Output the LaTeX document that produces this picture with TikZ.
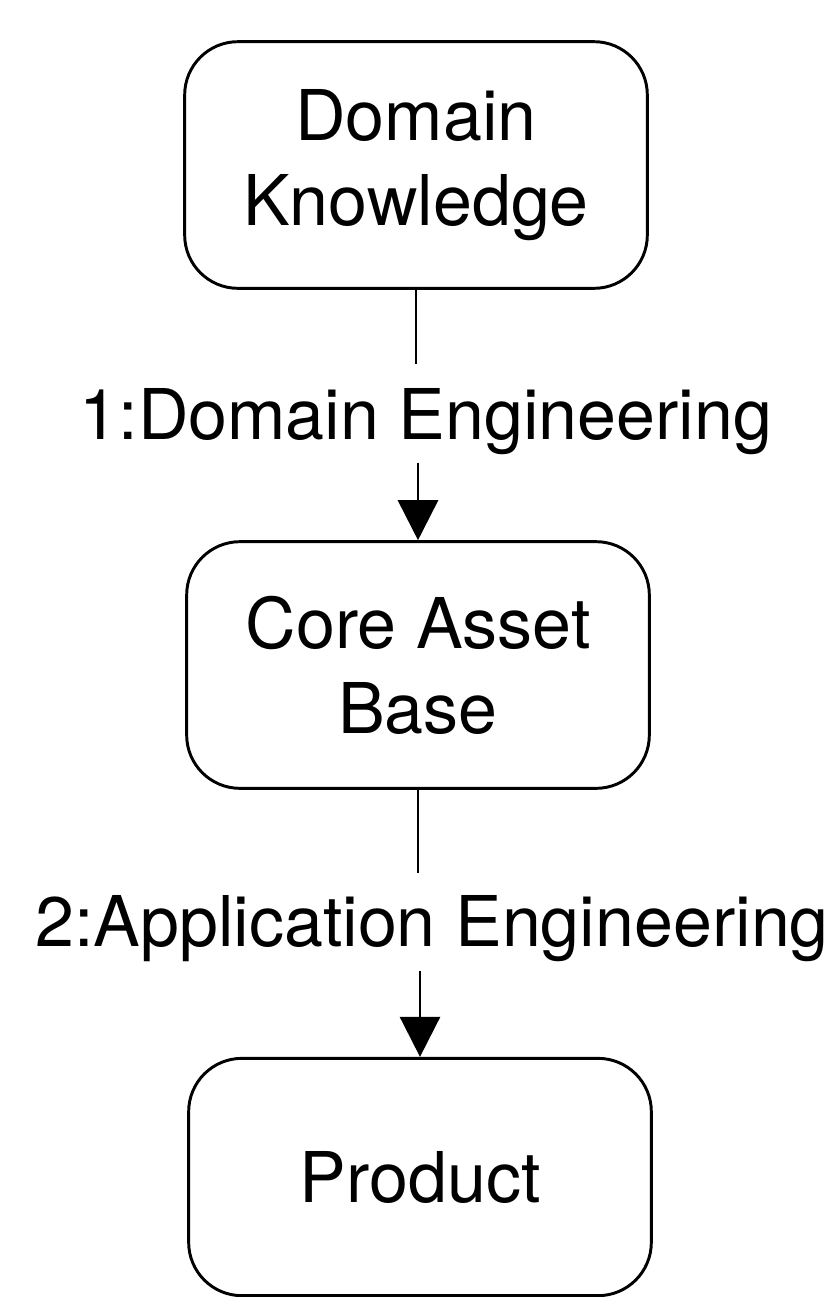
\documentclass[tikz,border=0pt]{standalone}
\usepackage{fontspec}
\setmainfont{TeX Gyre Heros}
\usepackage{tikz}
\usetikzlibrary{arrows.meta}

\begin{document}
\begin{tikzpicture}[x=0.75pt,y=0.75pt,yscale=-1,xscale=1,
	block/.style={draw, line width=2.2pt, rounded corners=40pt, minimum width=347pt, minimum height=185pt, inner sep=0pt, align=center, font=\fontsize{52.5}{63.75}\selectfont},
	tag/.style={inner sep=0pt, font=\fontsize{52.5}{63.75}\selectfont},
	link/.style={line width=2pt},
	flow/.style={line width=2pt, -{Triangle[length=30pt,width=30pt]}}]
	%set diagram left start at 0, and has height of 1297
	\useasboundingbox (0,0) rectangle (835,1297);
	
	%Rounded Rect [id:dk]
	\node [block] (dk) at (416,165) {Domain\\Knowledge};
	%Rounded Rect [id:cab]
	\node [block] (cab) at (418,665) {Core Asset\\Base};
	%Rounded Rect [id:prod]
	\node [block, minimum height=178pt] (prod) at (420,1177) {Product};
	
	% Text Node
	\node [tag, anchor=base] (de) at (426,439) {1:Domain Engineering};
	% Text Node
	\node [tag, anchor=base] (ae) at (432,946) {2:Application Engineering};
	
	%Straight Lines [id:dk-de]
	\draw [link, shorten >=18pt] (dk.south) -- (dk.south |- de.north);
	%Straight Lines [id:de-cab]
	\draw [flow, shorten <=6pt] (cab.north |- de.south) -- (cab.north);
	%Straight Lines [id:cab-ae]
	\draw [link, shorten >=16pt] (cab.south) -- (cab.south |- ae.north);
	%Straight Lines [id:ae-prod]
	\draw [flow, shorten <=7pt] (prod.north |- ae.south) -- (prod.north);
	
\end{tikzpicture}
\end{document}
